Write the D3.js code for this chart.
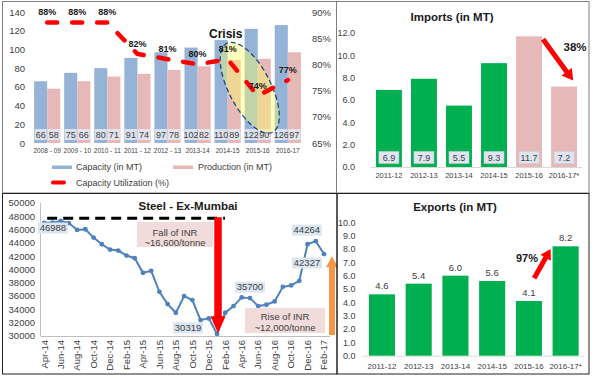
<!DOCTYPE html>
<html><head><meta charset="utf-8">
<script src="https://cdn.jsdelivr.net/npm/d3@7"></script>
<style>
body{margin:0;background:#fff;}
svg{display:block;font-family:"Liberation Sans",Arial,sans-serif;}
</style></head><body>
<svg id="chart" width="595" height="379"></svg>
<script>
// ---------- DATA ----------
const years = ["2008 - 09","2009 - 10","2010 - 11","2011 - 12","2012 - 13","2013-14","2014-15","2015-16","2016-17"];
const capacity = [66,75,80,91,97,102,110,122,126];
const production = [58,66,71,74,78,82,89,90,97];
const utilization = [88,88,88,82,81,80,81,74,77];
const capTicks = [0,20,40,60,80,100,120,140];
const utilTicks = [65,70,75,80,85,90];

const tradeYears = ["2011-12","2012-13","2013-14","2014-15","2015-16","2016-17*"];
const imports = [6.9,7.9,5.5,9.3,11.7,7.2];
const exportsMT = [4.6,5.4,6.0,5.6,4.1,8.2];
const importTicks = [0,2,4,6,8,10,12];
const exportTicks = [0,1,2,3,4,5,6,7,8,9,10];
const importHighlight = ["2015-16","2016-17*"];

const months = ["Apr-14","May-14","Jun-14","Jul-14","Aug-14","Sep-14","Oct-14","Nov-14","Dec-14","Jan-15","Feb-15","Mar-15",
  "Apr-15","May-15","Jun-15","Jul-15","Aug-15","Sep-15","Oct-15","Nov-15","Dec-15","Jan-16","Feb-16","Mar-16",
  "Apr-16","May-16","Jun-16","Jul-16","Aug-16","Sep-16","Oct-16","Nov-16","Dec-16","Jan-17","Feb-17"];
const steelPrice = [47000,47050,47300,46988,45950,46050,44800,43800,43000,42850,42100,41700,
  39500,39800,36650,34800,33500,36000,35400,32400,32650,30319,33500,34500,
  35800,35700,34500,34700,35200,37400,37600,38300,43800,44264,42327];
const monthTicks = ["Apr-14","Jun-14","Aug-14","Oct-14","Dec-14","Feb-15","Apr-15","Jun-15","Aug-15","Oct-15","Dec-15","Feb-16","Apr-16","Jun-16","Aug-16","Oct-16","Dec-16","Feb-17"];
const steelTicks = [30000,32000,34000,36000,38000,40000,42000,44000,46000,48000,50000];
const steelLabelled = ["Jul-14","Jan-16","May-16","Jan-17","Feb-17"];
const peakLevel = 47700;

// ---------- HELPERS ----------
const svg = d3.select("#chart");
const TXT = "#404040";
function arrow(g,x0,y0,x1,y1,w,hl,hw,color){
  const dx=x1-x0, dy=y1-y0, L=Math.hypot(dx,dy), ux=dx/L, uy=dy/L, px=-uy, py=ux;
  const bx=x1-ux*hl, by=y1-uy*hl;
  const pts=[[x0+px*w/2,y0+py*w/2],[bx+px*w/2,by+py*w/2],[bx+px*hw/2,by+py*hw/2],[x1,y1],
             [bx-px*hw/2,by-py*hw/2],[bx-px*w/2,by-py*w/2],[x0-px*w/2,y0-py*w/2]];
  g.append("polygon").attr("points",pts.map(p=>p.join(",")).join(" ")).attr("fill",color);
}
function styleAxis(sel,size){
  sel.select(".domain").remove();
  sel.selectAll("text").attr("fill",TXT).attr("font-size",size).attr("font-family","Liberation Sans, Arial, sans-serif");
}

// ---------- PANEL 1: capacity / production / utilization ----------
(function(){
  const g = svg.append("g");
  const x = d3.scaleBand().domain(years).range([32,303]).paddingInner(0.13).paddingOuter(0.07);
  const xs = d3.scaleBand().domain(["cap","prod"]).range([0,x.bandwidth()]);
  const y = d3.scaleLinear().domain([0,140]).range([143,12]);
  const yr = d3.scaleLinear().domain([65,90]).range([143,12]);
  const rows = years.map((yr_,i)=>({year:yr_, cap:capacity[i], prod:production[i], util:utilization[i]}));
  const colors = {cap:"#95b3d7", prod:"#e6b9b8"};

  g.append("g").attr("transform","translate(28,0)")
    .call(d3.axisLeft(y).tickValues(capTicks).tickSize(0).tickPadding(3)).call(s=>styleAxis(s,9.5));
  g.append("g").attr("transform","translate(309,0)")
    .call(d3.axisRight(yr).tickValues(utilTicks).tickSize(0).tickPadding(3).tickFormat(d=>d+"%")).call(s=>styleAxis(s,9.5));

  const grp = g.selectAll("g.grp").data(rows).join("g").attr("class","grp")
    .attr("transform",d=>`translate(${x(d.year)},0)`);
  ["cap","prod"].forEach(k=>{
    grp.append("rect").attr("x",xs(k)).attr("width",xs.bandwidth())
      .attr("y",d=>y(d[k])).attr("height",d=>y(0)-y(d[k])).attr("fill",colors[k]);
  });
  ["cap","prod"].forEach(k=>{
    grp.append("rect").attr("x",xs(k)+0.5).attr("width",xs.bandwidth()-1)
      .attr("y",y(0)-14).attr("height",11).attr("fill","#e2e8f1").attr("opacity",0.88);
    grp.append("text").attr("x",xs(k)+xs.bandwidth()/2).attr("y",y(0)-8.5).attr("dy","0.35em")
      .attr("text-anchor","middle").attr("font-size",9).attr("fill",TXT).text(d=>d[k]);
  });
  g.selectAll("text.cat").data(years).join("text").attr("class","cat")
    .attr("x",d=>x(d)+x.bandwidth()/2).attr("y",152.5).attr("text-anchor","middle")
    .attr("font-size",6.5).attr("fill",TXT).text(d=>d);

  const cx = x("2015-16")+x.bandwidth()/2-8, cy = y(59);
  g.append("ellipse").attr("transform",`translate(${cx},${cy}) rotate(62.7)`)
    .attr("rx",50).attr("ry",21).attr("fill","#ffff66").attr("fill-opacity",0.42)
    .attr("stroke","#1f497d").attr("stroke-width",1.3).attr("stroke-dasharray","5,3");
  g.append("text").attr("x",x("2014-15")+x.bandwidth()/2-2).attr("y",38).attr("text-anchor","middle")
    .attr("font-size",12).attr("font-weight","bold").attr("fill","#111").text("Crisis");

  const line = d3.line().x(d=>x(d.year)+x.bandwidth()/2).y(d=>yr(d.util));
  g.append("path").datum(rows).attr("d",line).attr("fill","none").attr("stroke","#ff0000")
    .attr("stroke-width",4.5).attr("stroke-dasharray","10,15").attr("stroke-linecap","round");
  g.selectAll("text.ul").data(rows).join("text").attr("class","ul")
    .attr("x",d=>x(d.year)+x.bandwidth()/2).attr("y",d=>yr(d.util)-7).attr("text-anchor","middle")
    .attr("font-size",9).attr("font-weight","bold").attr("fill","#1a1a1a").text(d=>d.util+"%");

  const lg = g.append("g");
  lg.append("rect").attr("x",52).attr("y",165.5).attr("width",20).attr("height",3.5).attr("fill",colors.cap);
  lg.append("text").attr("x",76).attr("y",170).attr("font-size",9).attr("fill",TXT).text("Capacity (in MT)");
  lg.append("rect").attr("x",173).attr("y",165.5).attr("width",20).attr("height",3.5).attr("fill",colors.prod);
  lg.append("text").attr("x",198).attr("y",170).attr("font-size",9).attr("fill",TXT).text("Production (in MT)");
  lg.append("line").attr("x1",53).attr("x2",64).attr("y1",182.5).attr("y2",182.5).attr("stroke","#ff0000").attr("stroke-width",4).attr("stroke-linecap","round");
  lg.append("text").attr("x",76).attr("y",186).attr("font-size",9).attr("fill",TXT).text("Capacity Utilization (%)");
})();

// ---------- PANEL 2: imports ----------
(function(){
  const g = svg.append("g");
  const x = d3.scaleBand().domain(tradeYears).range([371.4,581.6]).paddingInner(0.26).paddingOuter(0.13);
  const y = d3.scaleLinear().domain([0,12]).range([167,33]);
  const rows = tradeYears.map((t,i)=>({t, v:imports[i]}));
  g.append("g").attr("transform","translate(358,0)")
    .call(d3.axisLeft(y).tickValues(importTicks).tickSize(0).tickPadding(3).tickFormat(d3.format(".1f"))).call(s=>styleAxis(s,9));
  g.append("line").attr("x1",371).attr("x2",582).attr("y1",y(0)+0.5).attr("y2",y(0)+0.5).attr("stroke","#d9d9d9");
  g.selectAll("rect.b").data(rows).join("rect").attr("class","b")
    .attr("x",d=>x(d.t)).attr("width",x.bandwidth()).attr("y",d=>y(d.v)).attr("height",d=>y(0)-y(d.v))
    .attr("fill",d=>importHighlight.includes(d.t)?"#e6b9b8":"#00b050");
  g.selectAll("rect.lb").data(rows).join("rect").attr("class","lb")
    .attr("x",d=>x(d.t)+x.bandwidth()/2-10).attr("width",20).attr("y",y(0)-15.5).attr("height",12)
    .attr("fill","#dfe4f1").attr("stroke","#c9cfe0").attr("stroke-width",0.5);
  g.selectAll("text.v").data(rows).join("text").attr("class","v")
    .attr("x",d=>x(d.t)+x.bandwidth()/2).attr("y",y(0)-9.5).attr("dy","0.35em").attr("text-anchor","middle")
    .attr("font-size",9).attr("fill",TXT).text(d=>d3.format(".1f")(d.v));
  g.selectAll("text.c").data(tradeYears).join("text").attr("class","c")
    .attr("x",d=>x(d)+x.bandwidth()/2).attr("y",177.5).attr("text-anchor","middle")
    .attr("font-size",7.5).attr("fill",TXT).text(d=>d);
  g.append("text").attr("x",452).attr("y",20.5).attr("text-anchor","middle").attr("font-size",11.5)
    .attr("font-weight","bold").attr("fill","#1a1a1a").text("Imports (in MT)");
  const a = tradeYears[4], b = tradeYears[5];
  arrow(g, x(a)+x.bandwidth()+1, y(imports[4])+3, x(b)+x.bandwidth()*0.85, y(imports[5])-6, 5, 11, 13, "#ff0000");
  g.append("text").attr("x",575).attr("y",51).attr("text-anchor","middle").attr("font-size",11.5)
    .attr("font-weight","bold").attr("fill","#1a1a1a").text("38%");
})();

// ---------- PANEL 3: steel price ----------
(function(){
  const g = svg.append("g");
  const x = d3.scalePoint().domain(months).range([44.2,324]);
  const y = d3.scaleLinear().domain([30000,50000]).range([336,203]);
  const rows = months.map((m,i)=>({m, v:steelPrice[i]}));
  g.selectAll("text.yt").data(steelTicks).join("text").attr("class","yt")
    .attr("x",35).attr("y",d=>y(d)).attr("dy","0.35em").attr("text-anchor","end")
    .attr("font-size",9.5).attr("fill",TXT).text(d=>d3.format("d")(d));
  g.append("line").attr("x1",40.5).attr("x2",40.5).attr("y1",203).attr("y2",336).attr("stroke","#bfbfbf");
  g.append("line").attr("x1",40.5).attr("x2",330).attr("y1",336.5).attr("y2",336.5).attr("stroke","#bfbfbf");
  g.selectAll("text.m").data(monthTicks).join("text").attr("class","m")
    .attr("transform",d=>`translate(${x(d)},340) rotate(-90)`).attr("dy","0.35em")
    .attr("text-anchor","end").attr("font-size",9.5).attr("fill",TXT).text(d=>d);
  g.append("text").attr("x",188).attr("y",209.5).attr("text-anchor","middle").attr("font-size",11.5)
    .attr("font-weight","bold").attr("fill","#1a1a1a").text("Steel - Ex-Mumbai");

  g.append("line").attr("x1",x("Apr-14")+3).attr("x2",x("Jan-16")+8).attr("y1",y(peakLevel)).attr("y2",y(peakLevel))
    .attr("stroke","#000").attr("stroke-width",3).attr("stroke-dasharray","10,6");

  const line = d3.line().x(d=>x(d.m)).y(d=>y(d.v));
  g.append("path").datum(rows).attr("d",line).attr("fill","none").attr("stroke","#4f81bd").attr("stroke-width",2);
  g.selectAll("circle").data(rows).join("circle").attr("cx",d=>x(d.m)).attr("cy",d=>y(d.v)).attr("r",2.4).attr("fill","#4f81bd");

  g.append("rect").attr("x",137).attr("y",222).attr("width",76).attr("height",25).attr("fill","#f2dcdb");
  g.append("text").attr("x",175).attr("y",235.5).attr("text-anchor","middle").attr("font-size",9.5).attr("fill",TXT).text("Fall of INR");
  g.append("text").attr("x",175).attr("y",246).attr("text-anchor","middle").attr("font-size",9.5).attr("fill",TXT).text("~16,600/tonne");
  g.append("rect").attr("x",245).attr("y",308).attr("width",80).attr("height",25).attr("fill","#f2dcdb");
  g.append("text").attr("x",285).attr("y",319.5).attr("text-anchor","middle").attr("font-size",9.5).attr("fill",TXT).text("Rise of INR");
  g.append("text").attr("x",285).attr("y",331).attr("text-anchor","middle").attr("font-size",9.5).attr("fill",TXT).text("~12,000/tonne");

  arrow(g, x("Jan-16")+1, y(peakLevel)-1, x("Jan-16")+1, y(30400), 7.5, 17, 15, "#ff0000");
  arrow(g, x("Feb-17")+8, y(30150), x("Feb-17")+8, y(42000), 6, 11, 12, "#f79646");

  const offs = {"Jul-14":[-16,5],"Jan-16":[-29,-6],"May-16":[0,-11],"Jan-17":[-9,-11],"Feb-17":[-17,9]};
  const lab = g.selectAll("g.dl").data(rows.filter(d=>steelLabelled.includes(d.m))).join("g").attr("class","dl")
    .attr("transform",d=>`translate(${x(d.m)+offs[d.m][0]},${y(d.v)+offs[d.m][1]})`);
  lab.append("rect").attr("x",-15).attr("y",-5.5).attr("width",30).attr("height",11).attr("fill","#dce6f2");
  lab.append("text").attr("text-anchor","middle").attr("dy","0.35em").attr("font-size",9.5).attr("fill",TXT).text(d=>d.v);
})();

// ---------- PANEL 4: exports ----------
(function(){
  const g = svg.append("g");
  const x = d3.scaleBand().domain(tradeYears).range([363.6,584]).paddingInner(0.29).paddingOuter(0.145);
  const y = d3.scaleLinear().domain([0,10]).range([355.7,222.3]);
  const rows = tradeYears.map((t,i)=>({t, v:exportsMT[i]}));
  g.append("g").attr("transform","translate(358.5,0)")
    .call(d3.axisLeft(y).tickValues(exportTicks).tickSize(0).tickPadding(3).tickFormat(d3.format(".1f"))).call(s=>styleAxis(s,9));
  g.append("line").attr("x1",363).attr("x2",584).attr("y1",y(0)+0.5).attr("y2",y(0)+0.5).attr("stroke","#d9d9d9");
  g.selectAll("rect.b").data(rows).join("rect").attr("class","b")
    .attr("x",d=>x(d.t)).attr("width",x.bandwidth()).attr("y",d=>y(d.v)).attr("height",d=>y(0)-y(d.v)).attr("fill","#00b050");
  g.selectAll("text.v").data(rows).join("text").attr("class","v")
    .attr("x",d=>x(d.t)+x.bandwidth()/2).attr("y",d=>y(d.v)-5).attr("text-anchor","middle")
    .attr("font-size",9.5).attr("fill",TXT).text(d=>d3.format(".1f")(d.v));
  g.selectAll("text.c").data(tradeYears).join("text").attr("class","c")
    .attr("x",d=>x(d)+x.bandwidth()/2).attr("y",369).attr("text-anchor","middle")
    .attr("font-size",8).attr("fill",TXT).text(d=>d);
  g.append("text").attr("x",455).attr("y",211).attr("text-anchor","middle").attr("font-size",11.5)
    .attr("font-weight","bold").attr("fill","#1a1a1a").text("Exports (in MT)");
  const a = tradeYears[4], b = tradeYears[5];
  arrow(g, x(a)+x.bandwidth()*0.7, y(5.8), x(b)-2, y(8.0), 5, 10, 12, "#ff0000");
  g.append("text").attr("x",527).attr("y",262).attr("text-anchor","middle").attr("font-size",11)
    .attr("font-weight","bold").attr("fill","#1a1a1a").text("97%");
})();

// ---------- PANEL FRAMES ----------
svg.append("rect").attr("x",2.5).attr("y",1.5).attr("width",334).attr("height",191.5).attr("fill","none").attr("stroke","#7f7f7f");
svg.append("rect").attr("x",336.5).attr("y",1.5).attr("width",252.5).attr("height",191.5).attr("fill","none").attr("stroke","#7f7f7f");
svg.append("rect").attr("x",2.5).attr("y",193.5).attr("width",334.5).attr("height",180.5).attr("fill","none").attr("stroke","#222");
svg.append("rect").attr("x",337).attr("y",193.5).attr("width",252).attr("height",180.5).attr("fill","none").attr("stroke","#222");
</script>
</body></html>
